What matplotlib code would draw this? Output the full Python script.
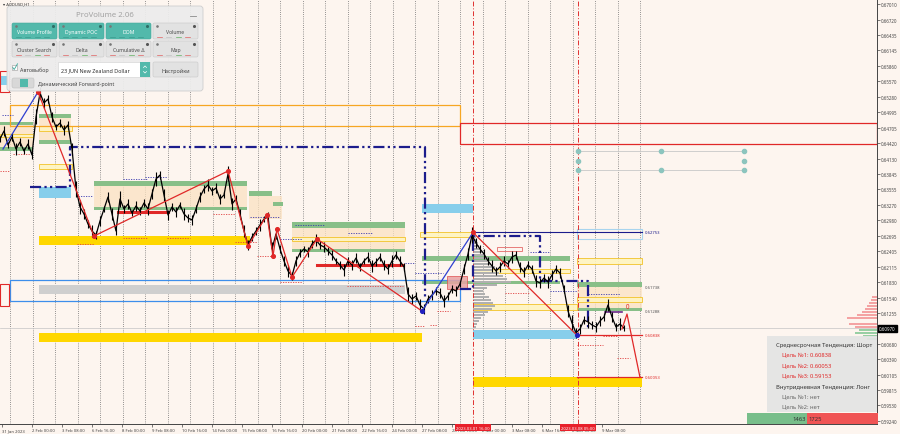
import numpy as np
import matplotlib
matplotlib.use('Agg')
import matplotlib.pyplot as plt
from matplotlib.patches import Rectangle, FancyBboxPatch

plt.rcParams['font.family'] = ['Noto Sans', 'DejaVu Sans']

BG = '#FDF5EF'
TEAL = '#52B9AB'
NAVY = '#1C1C8C'
RED = '#E02828'

# ---------------- data ----------------
STEP = 4  # time units between samples
close = [0.64495, 0.64644, 0.64383, 0.64532, 0.64309, 0.64439, 0.64271, 0.64402, 0.64197, 0.64905,
         0.65352, 0.65166, 0.65240, 0.64905, 0.64718, 0.64793, 0.64663, 0.64756, 0.64309, 0.63563,
         0.63228, 0.63098, 0.62911, 0.62781, 0.62706, 0.62967, 0.63191, 0.63414, 0.63098, 0.62781,
         0.63377, 0.63191, 0.63284, 0.63116, 0.63247, 0.63153, 0.63303, 0.63191, 0.63470, 0.63750,
         0.63824, 0.63452, 0.63079, 0.63228, 0.63135, 0.63265, 0.63098, 0.63023, 0.62986, 0.63191,
         0.63414, 0.63563, 0.63638, 0.63526, 0.63582, 0.63377, 0.63452, 0.63843, 0.63284, 0.63377,
         0.63098, 0.62781, 0.62520, 0.62669, 0.62781, 0.62893, 0.63004, 0.63042, 0.62446, 0.62725,
         0.62446, 0.62222, 0.62036, 0.61942, 0.62222, 0.62371, 0.62446, 0.62390, 0.62539, 0.62613,
         0.62520, 0.62483, 0.62408, 0.62334, 0.62222, 0.62147, 0.62054, 0.62222, 0.62147, 0.62278,
         0.62110, 0.62222, 0.62296, 0.62129, 0.62203, 0.62296, 0.62147, 0.62073, 0.62222, 0.62334,
         0.62222, 0.62110, 0.61607, 0.61514, 0.61570, 0.61402, 0.61328, 0.61514, 0.61589, 0.61663,
         0.61626, 0.61477, 0.61570, 0.61700, 0.61663, 0.61793, 0.62073, 0.62352, 0.62706, 0.62557,
         0.62446, 0.62352, 0.62222, 0.62129, 0.62036, 0.62110, 0.62222, 0.62166, 0.62296, 0.62334,
         0.62110, 0.62017, 0.62147, 0.62073, 0.61849, 0.61812, 0.61905, 0.61831, 0.61961, 0.62073,
         0.61998, 0.61700, 0.61290, 0.61067, 0.60881, 0.60955, 0.61123, 0.61086, 0.61030, 0.60992,
         0.61104, 0.61179, 0.61402, 0.61179, 0.60992, 0.61048, 0.60970]
# half high-low range of each sample, in pips
bar_range_pips = [6, 9, 5, 8, 11, 7, 6, 10, 8, 14, 12, 9, 7, 10, 6, 8, 9, 7, 12, 15,
                  13, 9, 8, 11, 7, 10, 6, 9, 12, 8, 14, 7, 9, 6, 10, 8, 7, 11, 9, 13,
                  8, 12, 10, 7, 9, 6, 11, 8, 10, 7, 9, 8, 12, 7, 10, 9, 6, 14, 11, 8,
                  10, 12, 9, 7, 8, 11, 6, 9, 13, 10, 8, 9, 12, 7, 10, 8, 6, 9, 7, 11,
                  8, 10, 7, 9, 6, 8, 11, 7, 9, 10, 8, 6, 9, 12, 7, 8, 10, 9, 11, 7,
                  9, 8, 13, 10, 8, 12, 9, 7, 10, 8, 9, 11, 8, 7, 10, 6, 9, 12, 14, 10,
                  8, 9, 7, 11, 8, 10, 9, 7, 12, 8, 9, 10, 8, 7, 11, 9, 8, 12, 10, 8,
                  9, 7, 12, 14, 10, 9, 8, 11, 7, 9, 10, 8, 12, 9, 7, 11, 6]
current_price = 0.60970

ytick_vals = [0.67010, 0.66720, 0.66435, 0.66145, 0.65860, 0.65570, 0.65280, 0.64995, 0.64705,
              0.64420, 0.64130, 0.63845, 0.63555, 0.63270, 0.62980, 0.62695, 0.62405, 0.62115,
              0.61830, 0.61540, 0.61255, 0.60970, 0.60680, 0.60390, 0.60105, 0.59815, 0.59530, 0.59240]
xlab = ['31 Jan 2023', '2 Feb 00:00', '3 Feb 08:00', '6 Feb 16:00', '8 Feb 00:00', '9 Feb 08:00',
        '10 Feb 16:00', '14 Feb 00:00', '15 Feb 08:00', '16 Feb 16:00', '20 Feb 00:00', '21 Feb 08:00',
        '22 Feb 16:00', '24 Feb 00:00', '27 Feb 08:00', '28 Feb 16:00', '2 Mar 00:00', '3 Mar 08:00',
        '6 Mar 16:00', '8 Mar 00:00', '9 Mar 08:00']
xlab_t = [2, 32, 62, 92, 122, 152, 182, 212, 242, 272, 302, 332, 362, 392, 422, 452, 482, 512, 542, 572, 602]
marker_dates = ['2023.03.01 16:00', '2023.03.08 05:00']
marker_t = [473, 578]

# zigzag
zz1_t = [38, 94, 228, 248, 267, 273, 277, 292, 317, 422]
zz1_p = [0.65370, 0.62687, 0.63898, 0.62501, 0.63079, 0.62314, 0.62817, 0.61923, 0.62632, 0.61289]
zz2_t = [473, 577]
zz2_p = [0.62753, 0.60838]
blue1_t = [3, 38]
blue1_p = [0.64308, 0.65370]
blue2_t = [422, 473]
blue2_p = [0.61289, 0.62753]
proj_t = [622, 627, 640]
proj_p = [0.60955, 0.61234, 0.60053]

# zones (t0, t1, p_hi, p_lo)
gold = [(39, 250, 0.62688, 0.62520), (39, 422, 0.60881, 0.60713), (473, 642, 0.60053, 0.59870)]
greyband = [(39, 405, 0.61775, 0.61607)]
bluebox = [(10, 460, 0.61868, 0.61477)]
sky = [(39, 71, 0.63600, 0.63396), (422, 473, 0.63284, 0.63116), (473, 577, 0.60936, 0.60769),
       (0, 8, 0.65668, 0.65501)]
green = [(0, 33, 0.64812, 0.64756), (0, 33, 0.64346, 0.64271), (39, 71, 0.64961, 0.64886),
         (39, 71, 0.64476, 0.64402), (94, 247, 0.63712, 0.63619), (94, 247, 0.63228, 0.63172),
         (249, 272, 0.63526, 0.63433), (273, 283, 0.63321, 0.63247), (292, 405, 0.62949, 0.62837),
         (292, 405, 0.62446, 0.62390), (422, 570, 0.62315, 0.62222), (422, 560, 0.61849, 0.61793),
         (577, 642, 0.61831, 0.61738), (577, 642, 0.61346, 0.61288)]
tan = [(0, 33, 0.64756, 0.64346), (39, 71, 0.64886, 0.64476), (94, 247, 0.63619, 0.63228),
       (249, 282, 0.63433, 0.63004), (292, 405, 0.62837, 0.62446), (577, 642, 0.61738, 0.61346)]
yellow_box = [(39, 72, 0.64737, 0.64644), (39, 72, 0.64029, 0.63936), (292, 405, 0.62669, 0.62595),
              (420, 473, 0.62762, 0.62669), (473, 570, 0.62073, 0.61998), (473, 577, 0.61421, 0.61309),
              (577, 642, 0.62278, 0.62166), (577, 642, 0.61551, 0.61458), (0, 33, 0.64588, 0.64532)]
lightblue_box = [(577, 642, 0.62818, 0.62632)]
orange_box = (10, 460, 0.65128, 0.64737)
red_box = (460, 877, 0.64793, 0.64402)
red_small_box = [(0, 9, 0.61793, 0.61383), (0, 9, 0.65762, 0.65370)]
pink_box = [(497, 522, 0.62483, 0.62408, 'none'), (447, 467, 0.61942, 0.61700, '#E9A3A3')]

red_thick = [(118, 168, 0.63135), (317, 403, 0.62147)]
target_lines = [(577, 642, 0.60838), (577, 642, 0.60053)]
navy_line = (473, 642, 0.62753)
navy_dd1_t = [30, 70, 70, 425, 425]
navy_dd1_p = [0.63600, 0.63600, 0.64346, 0.64346, 0.61514]
navy_dd2_t = [460, 473, 473, 540, 540, 588, 588]
navy_dd2_p = [0.61700, 0.61700, 0.62688, 0.62688, 0.61849, 0.61849, 0.60955]
purple_seg = (605, 622, 0.61272)

red_dotted = [(13, 30, 0.64215), (0, 10, 0.63899), (77, 94, 0.62538), (123, 147, 0.62650),
              (167, 190, 0.62650), (213, 235, 0.63098), (235, 257, 0.62576), (257, 273, 0.62315),
              (280, 302, 0.61831), (347, 403, 0.61756), (415, 425, 0.61011), (430, 437, 0.61030),
              (437, 450, 0.61290), (505, 530, 0.61626), (577, 603, 0.60657), (603, 617, 0.60825),
              (617, 630, 0.60415)]
navy_dotted = [(2, 13, 0.64942), (78, 93, 0.63433), (123, 147, 0.63750), (145, 167, 0.63787),
               (250, 280, 0.63042), (280, 302, 0.62632), (295, 325, 0.62893), (348, 372, 0.62743),
               (405, 415, 0.62185), (415, 443, 0.61998), (530, 550, 0.62390), (550, 577, 0.61663),
               (588, 620, 0.61607)]

level_labels = [(0.62753, NAVY), (0.61738, '#555555'), (0.61288, '#555555'), (0.60838, RED), (0.60053, RED)]

teal_t = [578, 578, 578, 661, 661, 744, 744, 744]
teal_p = [0.64271, 0.64085, 0.63917, 0.64271, 0.63917, 0.64271, 0.64085, 0.63917]

vp_levels = [0.62669, 0.62613, 0.62557, 0.62501, 0.62446, 0.62390, 0.62334, 0.62278, 0.62222, 0.62166,
             0.62110, 0.62054, 0.61998, 0.61942, 0.61887, 0.61831, 0.61775, 0.61719, 0.61663, 0.61607,
             0.61551, 0.61495, 0.61440, 0.61384, 0.61328, 0.61272, 0.61216, 0.61160, 0.61104, 0.61048,
             0.60992]
vp_width = [3, 4, 5, 6, 8, 10, 12, 16, 14, 18, 22, 20, 26, 30, 34, 38, 24, 14, 10, 12, 16, 18, 20, 22,
            19, 15, 12, 8, 6, 4, 3]
vp_start = 473

rp_pink_levels = [0.61551, 0.61495, 0.61440, 0.61384, 0.61328, 0.61272, 0.61216, 0.61160, 0.61048, 0.60992]
rp_pink_width = [5, 6, 8, 10, 12, 15, 20, 30, 28, 22]
rp_thin_levels = [0.62539, 0.62390, 0.61104]
rp_thin_width = [10, 12, 130]
rp_green_levels = [0.60936, 0.60881, 0.60825, 0.60769]
rp_green_width = [18, 22, 14, 10]

buy_vol, sell_vol = 1463, 1725

info_lines = [('Среднесрочная Тенденция: Шорт', '#333333', 0),
              ('Цель №1: 0.60838', RED, 1), ('Цель №2: 0.60053', RED, 1), ('Цель №3: 0.59153', RED, 1),
              ('Внутридневная Тенденция: Лонг', '#333333', 0),
              ('Цель №1: нет', '#666666', 1), ('Цель №2: нет', '#666666', 1)]

# ---------------- figure ----------------
fig = plt.figure(figsize=(9, 4.35), dpi=100, facecolor=BG)
ax = fig.add_axes([0, 10 / 435, 877 / 900, 425 / 435])
ax.set_facecolor(BG)
ax.set_xlim(0, 877)
ax.set_ylim(0.59185, 0.67103)
for s in ['left', 'top']:
    ax.spines[s].set_visible(False)
for s in ['right', 'bottom']:
    ax.spines[s].set_color('#444444')
    ax.spines[s].set_linewidth(0.7)
ax.yaxis.tick_right()
ax.set_yticks(ytick_vals)
ax.set_yticklabels(['' if abs(v - current_price) < 1e-7 else f'{v:.5f}' for v in ytick_vals])
ax.tick_params(axis='y', labelsize=3.2, length=2, width=0.5, pad=1, colors='#444444')
ax.set_xticks(xlab_t)
ax.set_xticklabels(xlab, ha='left')
ax.tick_params(axis='x', labelsize=3.0, length=2, width=0.5, pad=1, colors='#444444')

grid_t = [10 + 22.5 * k for k in range(29)]
for g in grid_t:
    ax.axvline(g, color='#707070', lw=0.6, ls=(0, (1, 1.6)), zorder=0.5)

def rect(t0, t1, hi, lo, **kw):
    ax.add_patch(Rectangle((t0, lo), t1 - t0, hi - lo, **kw))

for z in tan:
    rect(*z, fc='#FBE2C2', ec='none', alpha=0.75, zorder=1)
for z in green:
    rect(*z, fc='#88BF88', ec='none', zorder=1.5)
for z in gold:
    rect(*z, fc='#FFD700', ec='none', zorder=1.5)
for z in greyband:
    rect(*z, fc='#CFCFCF', ec='none', zorder=1.5)
for z in sky:
    rect(*z, fc='#87CEEB', ec='none', zorder=1.5)
for z in bluebox:
    rect(*z, fc='none', ec='#3D8EEB', lw=0.9, zorder=2)
for z in yellow_box:
    rect(*z, fc='#FFF4C0', ec='#F2C530', lw=0.7, alpha=0.9, zorder=2)
for z in lightblue_box:
    rect(*z, fc='none', ec='#A8D4EE', lw=0.8, zorder=2)
rect(*orange_box, fc='none', ec='#F6A623', lw=0.9, zorder=2)
rect(*red_box, fc='none', ec=RED, lw=0.9, zorder=2)
for z in red_small_box:
    rect(*z, fc='none', ec=RED, lw=0.8, zorder=2)
for t0, t1, hi, lo, fc in pink_box:
    rect(t0, t1, hi, lo, fc=fc, ec='#E05050', lw=0.6, alpha=0.85, zorder=2.5)

# volume profile (grey)
ax.barh(vp_levels, vp_width, left=vp_start, height=0.00050, color='#B0B0B0', zorder=2.2)
# right side profile
ax.barh(rp_pink_levels, [-w for w in rp_pink_width], left=877, height=0.00050, color='#F4A3A3', zorder=2.2)
ax.barh(rp_thin_levels, [-w for w in rp_thin_width], left=877, height=0.00012, color='#F4A3A3', zorder=2.2)
ax.barh(rp_green_levels, [-w for w in rp_green_width], left=877, height=0.00050, color='#98CFA4', zorder=2.2)

# current price line
ax.axhline(current_price, color='#C4C4C4', lw=0.5, zorder=1.2)

# dotted short lines
for t0, t1, p in red_dotted:
    ax.plot([t0, t1], [p, p], color='#E04040', lw=0.6, ls=(0, (1.5, 1.5)), zorder=2.6)
for t0, t1, p in navy_dotted:
    ax.plot([t0, t1], [p, p], color='#3A3AB0', lw=0.6, ls=(0, (1.5, 1.5)), zorder=2.6)

# navy dash-dot
ax.plot(navy_dd1_t, navy_dd1_p, color=NAVY, lw=1.6, ls=(0, (5, 1.5, 1, 1.5, 1, 1.5)), zorder=3)
ax.plot(navy_dd2_t, navy_dd2_p, color=NAVY, lw=1.6, ls=(0, (5, 1.5, 1, 1.5, 1, 1.5)), zorder=3)
ax.plot([navy_line[0], navy_line[1]], [navy_line[2]] * 2, color=NAVY, lw=0.8, zorder=3)
ax.plot([purple_seg[0], purple_seg[1]], [purple_seg[2]] * 2, color='#6A2A8A', lw=1.2, zorder=3)

for t0, t1, p in red_thick:
    ax.plot([t0, t1], [p, p], color=RED, lw=2.2, zorder=3.5)
for t0, t1, p in target_lines:
    ax.plot([t0, t1], [p, p], color=RED, lw=0.9, zorder=3.5)

# vertical red dash-dot
for t in marker_t:
    ax.axvline(t, color='#E03030', lw=0.7, ls=(0, (5, 2, 1, 2)), zorder=2.7)

# teal markers
ax.plot([teal_t[0], teal_t[-1]], [teal_p[0]] * 2, color='#C8C8C8', lw=0.6, zorder=2)
ax.plot([teal_t[0], teal_t[-1]], [teal_p[2]] * 2, color='#C8C8C8', lw=0.6, zorder=2)
ax.scatter(teal_t, teal_p, s=9, color='#8CC5BE', zorder=3)

# price (close line + high-low bars)
t_price = [i * STEP for i in range(len(close))]
half = [r * 0.0001 for r in bar_range_pips]
ax.vlines(t_price, [c - h for c, h in zip(close, half)], [c + h for c, h in zip(close, half)],
          color='black', lw=0.8, zorder=4)
ax.plot(t_price, close, color='black', lw=0.9, zorder=4)

# zigzag
ax.plot(zz1_t, zz1_p, color=RED, lw=0.9, zorder=5)
ax.plot(zz2_t, zz2_p, color=RED, lw=0.9, zorder=5)
ax.plot(blue1_t, blue1_p, color='#2F3FD0', lw=0.9, zorder=5)
ax.plot(blue2_t, blue2_p, color='#2F3FD0', lw=0.9, zorder=5)
ax.plot(proj_t, proj_p, color=RED, lw=0.9, zorder=5)
ax.scatter(zz1_t[:-1] + zz2_t[:1], zz1_p[:-1] + zz2_p[:1], s=7, color=RED, zorder=6)
ax.scatter([zz1_t[-1], zz2_t[-1]], [zz1_p[-1], zz2_p[-1]], s=7, color='#2020C0', zorder=6)
ax.text(proj_t[1], proj_p[1] + 0.0008, '0', color=RED, fontsize=4.5, ha='center', va='bottom', zorder=6)

for p, c in level_labels:
    ax.text(645, p, f'{p:.5f}', color=c, fontsize=3, va='center', ha='left', zorder=6)

# current price tag
ax.text(879, current_price, f'{current_price:.5f}', color='white', fontsize=3.2, va='center', ha='left',
        clip_on=False, zorder=10,
        bbox=dict(boxstyle='square,pad=0.25', fc='black', ec='black'))
# date markers
for lab, t in zip(marker_dates, marker_t):
    ax.text(t, -0.004, lab, transform=ax.get_xaxis_transform(), color='white', fontsize=3.0,
            ha='center', va='top', clip_on=False, zorder=10,
            bbox=dict(boxstyle='square,pad=0.3', fc='#E8202A', ec='none'))

# ---------------- overlay (pixel coords) ----------------
ov = fig.add_axes([0, 0, 1, 1], facecolor='none')
ov.set_xlim(0, 900)
ov.set_ylim(435, 0)
ov.axis('off')

ov.text(3, 4.5, '▾ AUDUSD,H1', fontsize=3, color='#333333', va='center')

ov.add_patch(FancyBboxPatch((7, 7), 196, 85, boxstyle='round,pad=0,rounding_size=3',
                            fc='#ECECEC', ec='#CCCCCC', lw=0.6, alpha=0.94, zorder=1))
ov.text(105, 15.5, 'ProVolume 2.06', ha='center', va='center', fontsize=5.6, color='#A2A2A2', zorder=2)
ov.plot([190, 196], [17, 17], color='#8A8A8A', lw=0.6, zorder=2)

buttons = [[('Volume Profile', TEAL), ('Dynamic POC', TEAL), ('DOM', TEAL), ('Volume', '#E2E2E2')],
           [('Cluster Search', '#E2E2E2'), ('Delta', '#E2E2E2'), ('Cumulative Δ', '#E2E2E2'), ('Map', '#E2E2E2')]]
bx = [(12, 57), (59, 104), (106, 151), (153, 198)]
by = [(24, 40), (42, 58)]
for r, row in enumerate(buttons):
    y0, y1 = by[r]
    for c, (lab, col) in enumerate(row):
        x0, x1 = bx[c]
        ov.add_patch(FancyBboxPatch((x0, y0), x1 - x0, y1 - y0, boxstyle='round,pad=0,rounding_size=1.5',
                                    fc=col, ec='#C8C8C8' if col != TEAL else '#45A99C', lw=0.4, zorder=2))
        tc = 'white' if col == TEAL else '#4A4A4A'
        ov.text((x0 + x1) / 2, (y0 + y1) / 2 + 0.5, lab, ha='center', va='center', fontsize=3.7,
                color=tc, zorder=3)
        ov.scatter([x1 - 4], [y0 + 3], s=1.5, color='#555555' if col != TEAL else '#2E6E66', zorder=3)
        ov.scatter([x0 + 4], [y0 + 3], s=0.8, color='#777777', zorder=3)
        for k in range(4):
            xx = x0 + 4 + k * (x1 - x0 - 8) / 4
            cc = ['#E06060', '#C0C0C0', '#60B060', '#E06060'][k] if col != TEAL else '#3D9A8E'
            ov.plot([xx, xx + 5], [y1 - 2.2, y1 - 2.2], color=cc, lw=0.5, zorder=3)

# checkbox
ov.add_patch(Rectangle((12, 66), 5, 5, fc='white', ec='#999999', lw=0.4, zorder=2))
ov.plot([12.8, 14.2, 17.5], [68.5, 70.5, 64.8], color='#3AA89A', lw=0.6, zorder=3)
ov.text(19.5, 70, 'Автовыбор', fontsize=3.8, va='center', color='#444444', zorder=3)
# dropdown
ov.add_patch(Rectangle((58, 63), 92, 15, fc='white', ec='#D0D0D0', lw=0.4, zorder=2))
ov.add_patch(Rectangle((140, 63), 10, 15, fc=TEAL, ec='none', zorder=2.5))
ov.plot([143.5, 145, 146.5], [68.5, 67, 68.5], color='white', lw=0.5, zorder=3)
ov.plot([143.5, 145, 146.5], [72.5, 74, 72.5], color='white', lw=0.5, zorder=3)
ov.text(61, 70.8, '23 JUN New Zealand Dollar', fontsize=3.9, va='center', color='#333333', zorder=3)
ov.add_patch(FancyBboxPatch((153, 63), 45, 15, boxstyle='round,pad=0,rounding_size=1.5',
                            fc='#E2E2E2', ec='#C8C8C8', lw=0.4, zorder=2))
ov.text(175.5, 71, 'Настройки', fontsize=3.9, ha='center', va='center', color='#4A4A4A', zorder=3)
# toggle
ov.add_patch(FancyBboxPatch((12, 79), 22, 10, boxstyle='round,pad=0,rounding_size=2',
                            fc='#D8D8D8', ec='#C0C0C0', lw=0.4, zorder=2))
ov.add_patch(Rectangle((19.5, 80), 8, 8, fc=TEAL, ec='none', zorder=3))
ov.text(38, 84.5, 'Динамический Forward-point', fontsize=3.8, va='center', color='#444444', zorder=3)

# info box
ov.add_patch(Rectangle((767, 337), 110, 76, fc='#E4E4E4', ec='none', alpha=0.93, zorder=2))
for i, (txt, col, ind) in enumerate(info_lines):
    ov.text(776 + ind * 6, 345.5 + i * 10.4, txt, fontsize=4.2, color=col, va='center', ha='left', zorder=3)

# buy / sell bar
tot = buy_vol + sell_vol
x_start, x_end = 747, 878
x_mid = x_start + (x_end - x_start) * buy_vol / tot
ov.add_patch(Rectangle((x_start, 414), x_mid - x_start, 10.5, fc='#78BE8A', ec='none', zorder=2))
ov.add_patch(Rectangle((x_mid, 414), x_end - x_mid, 10.5, fc='#F05454', ec='none', zorder=2))
ov.text(x_mid - 1.5, 419.3, str(buy_vol), fontsize=4.2, ha='right', va='center', color='#333333', zorder=3)
ov.text(x_mid + 1.5, 419.3, str(sell_vol), fontsize=4.2, ha='left', va='center', color='#333333', zorder=3)

fig.savefig('out.png', dpi=100, facecolor=BG)
